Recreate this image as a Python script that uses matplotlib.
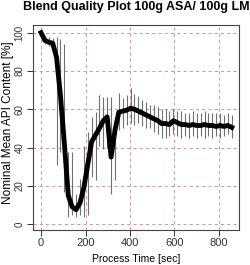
import numpy as np
import matplotlib
matplotlib.use("Agg")
import matplotlib.pyplot as plt

plt.rcParams['font.family'] = ['Liberation Sans', 'DejaVu Sans']

# sampling every 17.5 s
time = [17.5 * i for i in range(50)]

mean = [100, 96, 95, 94.5, 87, 67, 42, 15, 9, 7.5,
        11, 19, 31, 43, 46.5, 50, 54, 56, 35, 49,
        58.5, 59, 59.5, 60.5, 60, 59, 58, 57, 56, 55,
        54, 52.5, 52.5, 52, 54, 53, 52, 52, 51.5, 52,
        51.5, 51.5, 52, 51.5, 51.5, 51, 51.5, 51, 51.5, 50.5]

lower = [100, 94, 93, 93, 31, 37.5, 17, 3.6, 4.5, 3.8,
         4.5, 3.6, 4.5, 24.7, 23, 40.7, 39, 39.8, 15.6, 23,
         49.4, 50, 51.9, 53, 52, 53, 51, 50, 50, 48,
         47, 45, 45, 46, 47, 46, 45, 46, 45, 46,
         45, 46, 45, 46, 45, 46, 45, 46, 47, 45]

upper = [100, 98, 97.5, 97, 97.5, 96.5, 94, 37.6, 37.6, 15.5,
         23.4, 41, 48, 56, 58.8, 67.5, 66.6, 66.6, 66.6, 54.5,
         68.5, 66, 67.5, 71, 68, 67, 65, 64, 62, 62,
         61, 60, 60, 59, 60, 59, 59, 58, 58, 59,
         58, 58, 59, 58, 58, 58, 58, 57, 58, 57]

xticks = [0, 200, 400, 600, 800]
yticks = [0, 20, 40, 60, 80, 100]

fig = plt.figure(figsize=(2.5, 2.65), dpi=100)
ax = fig.add_axes([33 / 250, 35 / 265, 206 / 250, 205 / 265])

ax.grid(True, color='#cc9e9e', ls=(0, (3, 3)), lw=0.75)
ax.set_axisbelow(True)

ax.vlines(time, lower, upper, color='#707070', lw=0.8)
ax.plot(time, mean, color='black', lw=3.5, solid_joinstyle='round')

ax.set_xlim(-36, 890)
ax.set_ylim(-3.1, 104)
ax.set_xticks(xticks)
ax.set_yticks(yticks)
ax.tick_params(direction='out', length=4, width=0.7, colors='#333333')
ax.tick_params(axis='x', labelsize=8, pad=2)
ax.tick_params(axis='y', labelsize=7, pad=2)
for lab in ax.get_yticklabels():
    lab.set_rotation(90)
    lab.set_va('center')
for s in ax.spines.values():
    s.set_color('#444444')
    s.set_linewidth(0.8)

ax.set_xlabel('Process Time [sec]', fontsize=7.5, labelpad=4)
fig.text(8 / 250, 1 - 123 / 265, 'Nominal Mean API Content [%]',
         rotation=90, ha='center', va='center', fontsize=8.5)

fig.text(136 / 250, 1 - 10 / 265, 'Blend Quality Plot 100g ASA/ 100g LM',
         ha='center', va='baseline', fontsize=9, fontweight='bold')

fig.savefig('out.png', dpi=100)
